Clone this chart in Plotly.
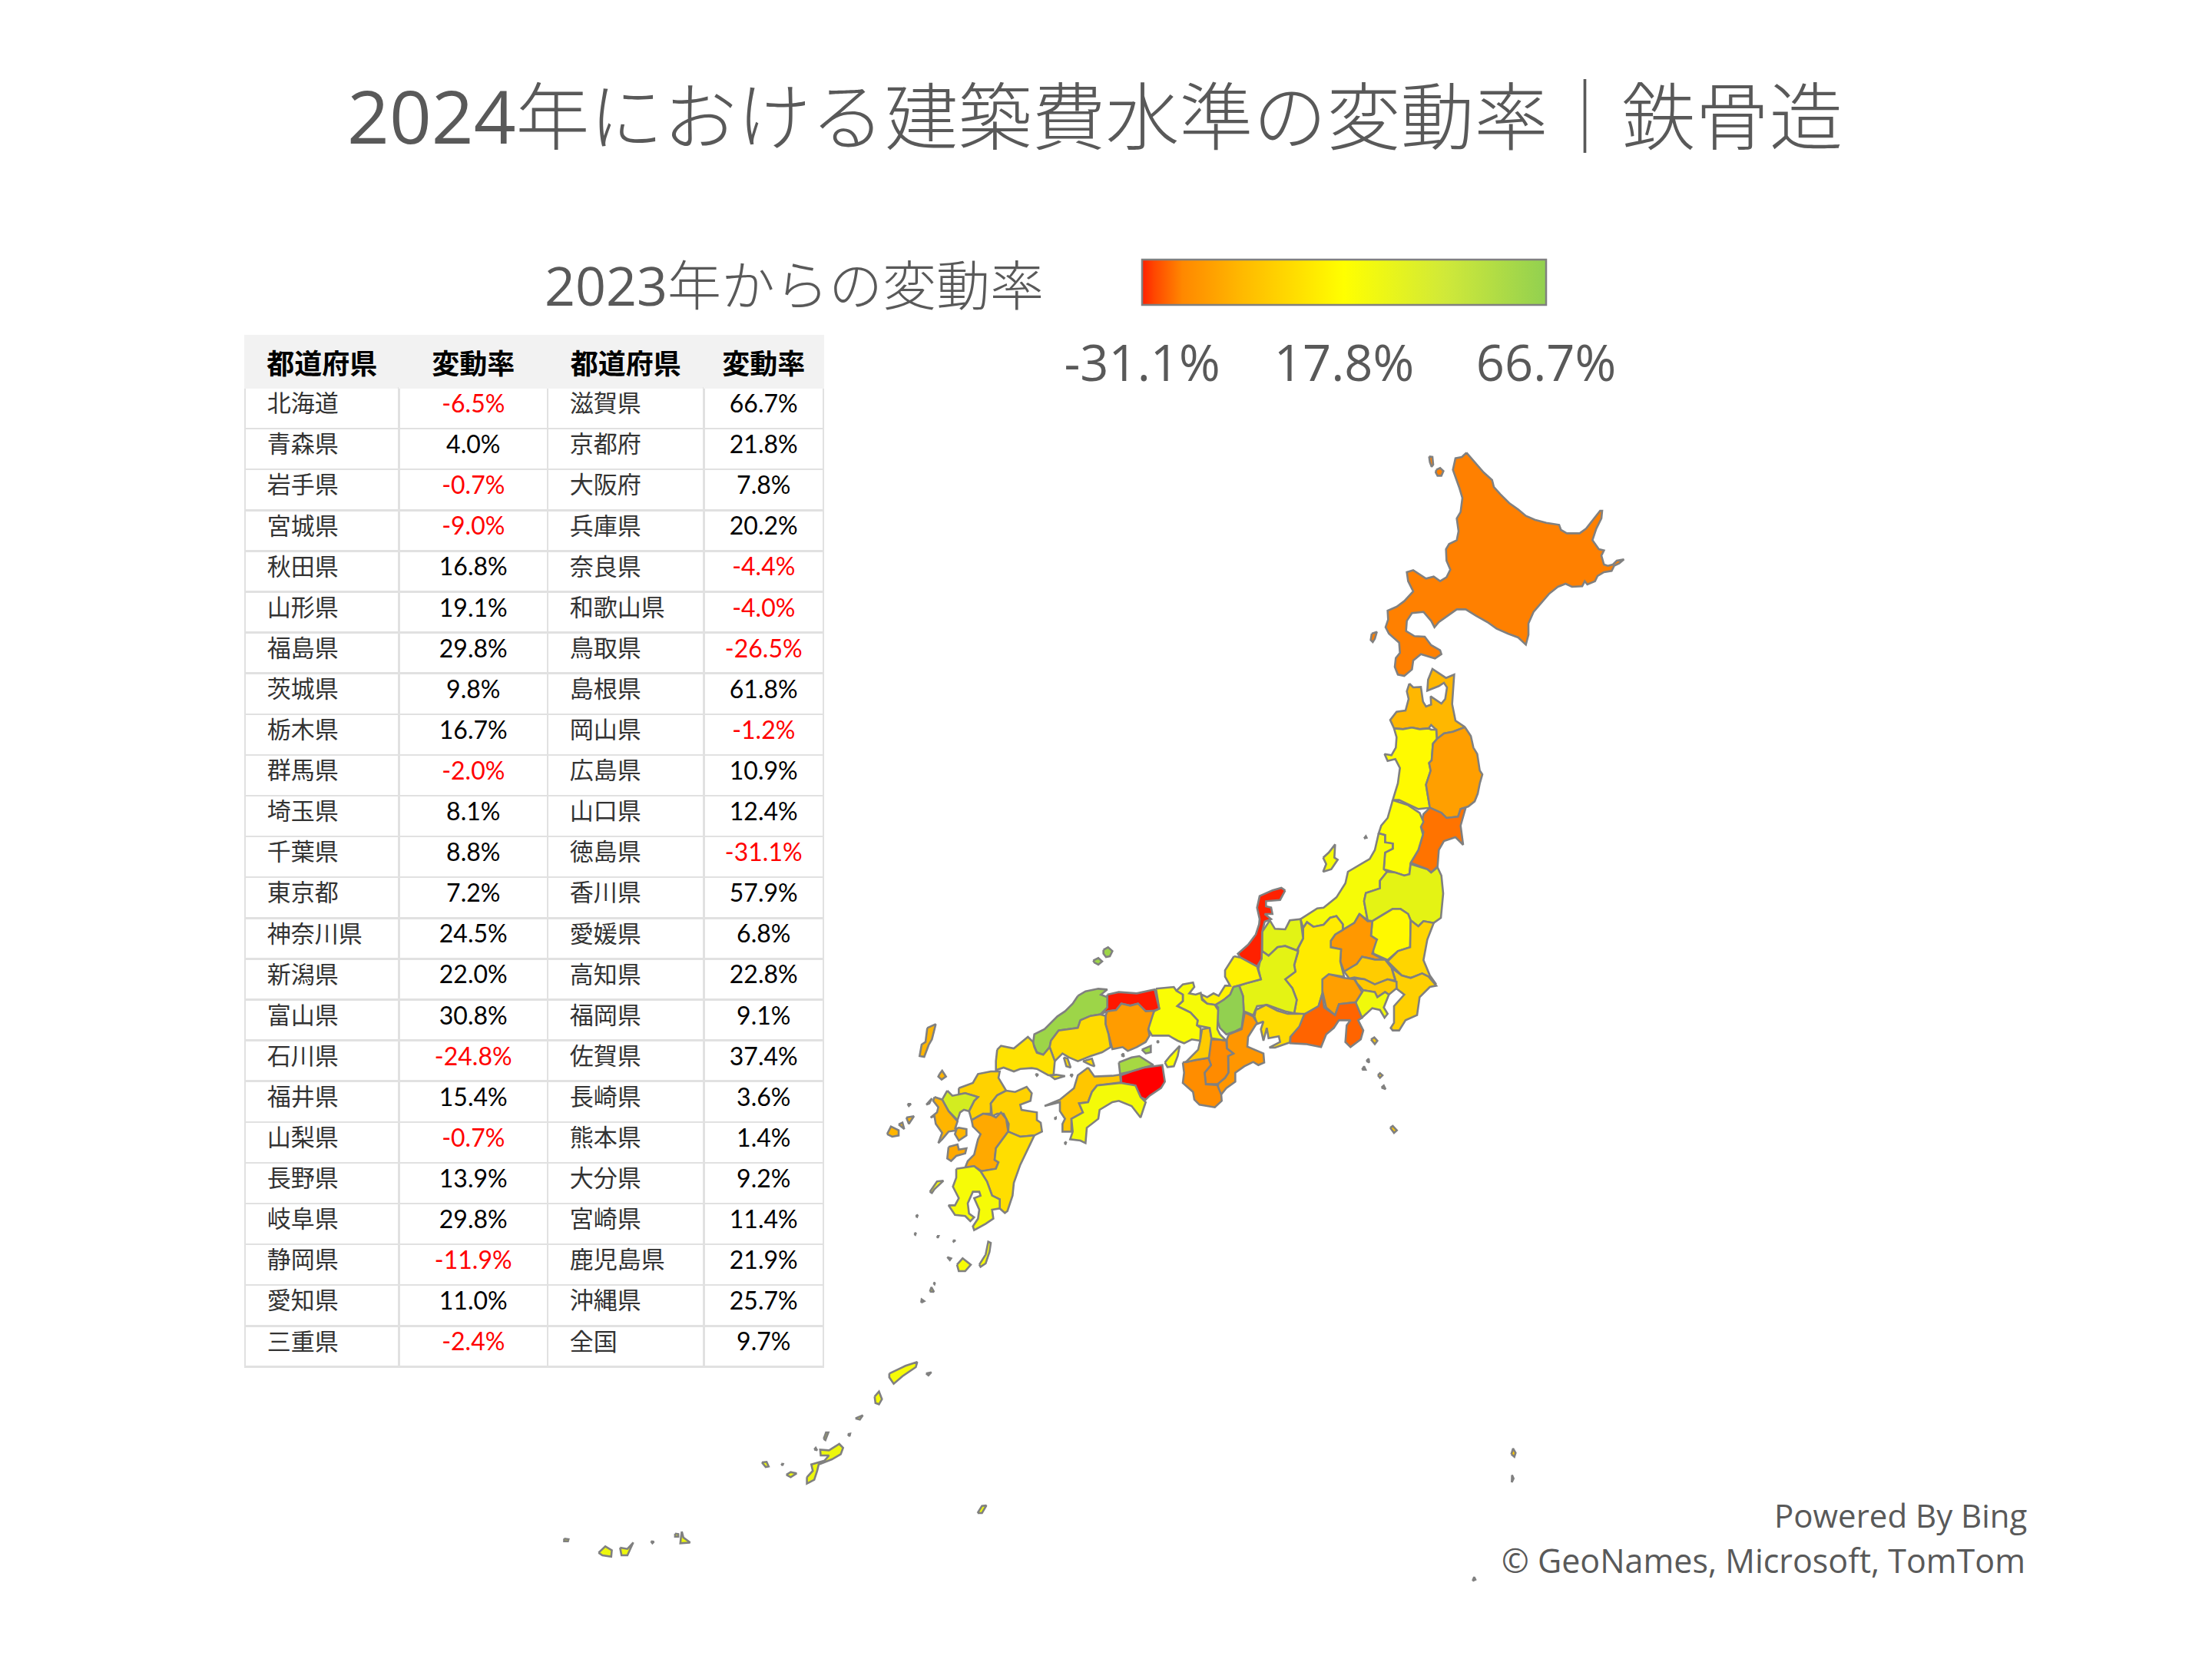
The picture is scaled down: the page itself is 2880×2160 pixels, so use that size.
from plotly.colors import sample_colorscale
import plotly.graph_objects as go

TITLE_YEAR = "2024"
TITLE_REST = "年における建築費水準の変動率｜鉄骨造"
SCALE_TITLE_YEAR = "2023"
SCALE_TITLE_REST = "年からの変動率"
FOOTER = ["Powered By Bing", "© GeoNames, Microsoft, TomTom"]
TABLE_HEADERS = ["都道府県", "変動率", "都道府県", "変動率"]

PREFS_LEFT = ["北海道", "青森県", "岩手県", "宮城県", "秋田県", "山形県", "福島県", "茨城県",
              "栃木県", "群馬県", "埼玉県", "千葉県", "東京都", "神奈川県", "新潟県", "富山県",
              "石川県", "福井県", "山梨県", "長野県", "岐阜県", "静岡県", "愛知県", "三重県"]
RATES_LEFT = [-6.5, 4.0, -0.7, -9.0, 16.8, 19.1, 29.8, 9.8,
              16.7, -2.0, 8.1, 8.8, 7.2, 24.5, 22.0, 30.8,
              -24.8, 15.4, -0.7, 13.9, 29.8, -11.9, 11.0, -2.4]
PREFS_RIGHT = ["滋賀県", "京都府", "大阪府", "兵庫県", "奈良県", "和歌山県", "鳥取県", "島根県",
               "岡山県", "広島県", "山口県", "徳島県", "香川県", "愛媛県", "高知県", "福岡県",
               "佐賀県", "長崎県", "熊本県", "大分県", "宮崎県", "鹿児島県", "沖縄県", "全国"]
RATES_RIGHT = [66.7, 21.8, 7.8, 20.2, -4.4, -4.0, -26.5, 61.8,
               -1.2, 10.9, 12.4, -31.1, 57.9, 6.8, 22.8, 9.1,
               37.4, 3.6, 1.4, 9.2, 11.4, 21.9, 25.7, 9.7]

SCALE_MIN, SCALE_MID, SCALE_MAX = -31.1, 17.8, 66.7
SCALE_COLORS = [[0, "#ff0000"], [0.5, "#ffff00"], [1, "#92d050"]]
# the legend bar in the source blends its three stops with a gamma, so it looks lighter
BAR_COLORS = [[0, "#ff2000"], [0.03, "#ff4700"], [0.1, "#ff8800"], [0.25, "#ffba00"],
              [0.5, "#ffff00"], [0.75, "#d0e939"], [1, "#92d050"]]

# No boundary file is available offline, so the outlines are traced off the source map.
# Each ring is (sheet, points); a sheet is a local tracing frame: origin and units per map unit.
SHEETS = {"A": (1700, 560, 3), "B": (1500, 1000, 3), "C": (1120, 1200, 3), "D": (1120, 1300, 3),
          "E": (700, 1750, 2.61), "F": (1500, 1240, 3), "G": (1700, 1340, 3), "H": (1900, 1840, 3)}

OUTLINES = {
    "北海道": [
        ("A", [(628,88),(660,125),(695,165),(728,195),(735,222),(760,250),(795,285),(830,310),(860,335),(895,350),(940,362),(990,370),(997,390),(1020,403),(1070,403),(1095,385),(1125,345),(1150,315),(1158,315),(1155,345),(1135,385),(1120,430),(1145,465),(1165,470),(1155,490),(1165,525),(1180,530),(1200,525),(1215,510),(1243,505),(1225,520),(1205,530),(1195,550),(1165,555),(1140,570),(1130,590),(1100,603),(1090,590),(1080,610),(1040,612),(1015,600),(985,612),(950,640),(920,675),(890,710),(870,755),(870,800),(860,838),(830,810),(790,795),(745,775),(710,750),(665,725),(625,700),(590,700),(555,725),(520,750),(503,770),(490,745),(460,710),(415,715),(395,745),(392,785),(425,805),(465,807),(490,840),(525,860),(530,875),(505,892),(450,875),(420,900),(415,935),(385,960),(360,955),(348,925),(352,890),(368,870),(365,830),(325,795),(312,770),(322,740),(320,705),(355,690),(385,668),(420,630),(400,590),(395,555),(420,547),(470,580),(500,572),(525,590),(550,575),(565,545),(550,510),(548,465),(560,445),(590,430),(597,395),(590,345),(605,320),(612,265),(600,225),(575,155),(585,110),(610,105)]),
        ("A", [(510,155),(525,148),(538,160),(530,178),(515,178),(508,165)]),
        ("A", [(482,103),(495,105),(498,135),(492,143),(485,125)]),
        ("A", [(258,795),(278,788),(270,815),(262,828),(254,820)]),
    ],
    "青森県": [("A", [(405,990),(420,1005),(450,1003),(458,1060),(470,1080),(490,1072),(488,1040),(530,1068),(545,1050),(552,1005),(540,987),(520,1000),(475,1018),(478,975),(495,933),(520,950),(548,968),(580,955),(575,1020),(572,1070),(585,1135),(622,1160),(575,1178),(540,1185),(512,1207),(510,1170),(490,1152),(480,1165),(445,1168),(415,1162),(380,1168),(345,1165),(330,1132),(355,1100),(390,1095),(402,1050),(395,1020)])],
    "秋田県": [("A", [(345,1165),(380,1168),(415,1162),(445,1168),(480,1165),(490,1170),(510,1170),(512,1207),(497,1225),(492,1290),(482,1300),(488,1330),(470,1385),(480,1440),(485,1475),(440,1480),(400,1462),(365,1445),(340,1445),(360,1380),(368,1320),(350,1285),(320,1292),(308,1265),(335,1270),(352,1240),(355,1200)])],
    "岩手県": [("A", [(622,1160),(645,1195),(655,1240),(670,1265),(680,1330),(690,1345),(680,1380),(672,1420),(660,1450),(635,1470),(605,1480),(595,1510),(550,1515),(530,1495),(485,1475),(480,1440),(470,1385),(488,1330),(482,1300),(492,1290),(497,1225),(512,1207),(540,1185),(575,1178)])],
    "宮城県": [("B", [(1085,155),(1130,175),(1150,195),(1195,190),(1205,160),(1225,155),(1205,225),(1215,300),(1185,270),(1140,285),(1120,320),(1115,385),(1090,408),(1075,395),(1010,370),(1040,320),(1060,250),(1050,230),(1060,180)])],
    "山形県": [("B", [(940,125),(1000,145),(1045,175),(1060,210),(1050,230),(1058,260),(1040,320),(1010,370),(1005,415),(985,420),(950,408),(905,395),(910,330),(940,315),(940,295),(910,290),(910,262),(885,255),(895,225),(920,195)])],
    "新潟県": [
        ("B", [(885,255),(910,262),(910,290),(940,295),(940,315),(910,330),(905,395),(918,405),(890,440),(890,470),(835,488),(828,520),(842,595),(810,570),(790,605),(745,632),(745,610),(720,578),(695,585),(670,612),(630,620),(605,602),(590,625),(580,590),(645,548),(670,545),(720,505),(755,450),(765,405),(815,375),(850,355),(870,320)]),
        ("B", [(668,350),(690,330),(715,298),(712,350),(725,358),(700,395),(668,405),(680,375)]),
        ("B", [(828,275),(835,266),(838,272)]),
    ],
    "福島県": [("B", [(918,405),(950,408),(985,420),(1005,415),(1010,375),(1075,395),(1090,408),(1115,388),(1130,420),(1137,490),(1128,585),(1100,605),(1060,598),(1040,618),(1010,595),(1000,570),(970,550),(940,550),(905,570),(860,598),(842,595),(828,520),(835,488),(890,470),(890,440)])],
    "栃木県": [("B", [(860,598),(905,570),(940,550),(970,550),(1000,570),(1010,595),(1008,700),(960,715),(920,750),(910,745),(865,725),(860,690),(878,670),(855,655)])],
    "群馬県": [("B", [(810,570),(842,598),(860,598),(855,655),(878,670),(860,725),(905,748),(870,748),(820,737),(800,765),(750,795),(735,755),(738,708),(698,700),(698,675),(715,650),(745,632),(790,605)])],
    "茨城県": [("B", [(1010,595),(1040,618),(1060,598),(1100,605),(1075,670),(1060,750),(1085,810),(1110,845),(1080,815),(1055,802),(1010,820),(975,810),(945,780),(920,755),(960,715),(1008,700)])],
    "千葉県": [("B", [(935,780),(975,810),(1010,820),(1055,802),(1080,815),(1110,850),(1085,855),(1045,895),(1035,965),(990,985),(965,1025),(940,1025),(932,1015),(945,995),(945,930),(985,885),(955,862),(950,825)])],
    "埼玉県": [("B", [(750,795),(800,765),(820,737),(870,748),(910,748),(935,780),(950,830),(920,825),(870,845),(830,825),(790,818),(770,822)])],
    "東京都": [
        ("B", [(790,822),(830,825),(870,845),(920,825),(955,835),(955,860),(925,885),(910,875),(880,895),(870,875),(825,868),(800,840)]),
        ("G", [(255,40),(268,32),(280,45),(270,58)]),
        ("G", [(237,124),(246,115),(248,130)]),
        ("G", [(220,158),(228,145),(234,158)]),
        ("G", [(282,180),(290,172),(300,180),(290,190)]),
        ("G", [(296,228),(305,220),(312,234)]),
        ("G", [(330,385),(340,378),(356,395),(345,405)]),
        ("H", [(203,160),(210,138),(220,155),(215,170)]),
        ("H", [(205,270),(206,242),(212,255)]),
        ("H", [(52,655),(58,640),(63,650)]),
    ],
    "神奈川県": [("B", [(825,868),(870,875),(880,895),(910,875),(925,885),(905,935),(920,960),(908,975),(890,945),(860,938),(820,975),(795,935),(795,915)])],
    "山梨県": [("B", [(665,825),(690,805),(750,820),(790,825),(820,875),(795,915),(730,922),(715,965),(680,935),(665,870)])],
    "長野県": [("B", [(590,625),(605,602),(630,620),(670,612),(695,585),(720,578),(745,610),(745,632),(715,650),(698,675),(698,700),(738,708),(735,755),(750,815),(690,805),(665,825),(665,880),(650,930),(595,962),(555,958),(565,905),(548,860),(520,825),(560,795),(555,770),(570,720),(570,705),(590,665)])],
    "富山県": [("B", [(460,595),(480,628),(520,630),(538,595),(580,590),(590,665),(565,712),(520,695),(490,700),(455,733),(430,715),(430,640)])],
    "岐阜県": [("B", [(430,715),(455,733),(490,700),(520,695),(570,715),(555,770),(560,795),(520,825),(548,860),(565,905),(555,958),(520,950),(490,940),(450,925),(410,930),(395,965),(370,955),(358,950),(355,890),(340,850),(370,840),(425,825),(415,785)])],
    "石川県": [("B", [(520,478),(505,468),(470,478),(420,500),(410,545),(420,590),(418,610),(405,650),(375,690),(335,725),(345,740),(410,775),(428,745),(430,640),(440,600),(465,590),(440,570),(470,570),(465,545),(445,540),(445,520),(500,515)])],
    "福井県": [("B", [(320,735),(345,740),(410,775),(425,825),(370,840),(340,850),(318,855),(305,885),(275,910),(248,925),(215,920),(195,900),(195,885),(215,895),(240,880),(260,890),(285,850),(305,850),(285,815),(285,790)])],
    "滋賀県": [("B", [(318,855),(340,850),(355,890),(358,950),(350,1015),(320,1030),(290,1040),(265,1015),(255,985),(258,935),(248,925),(280,905),(305,885)])],
    "静岡県": [("B", [(595,962),(650,930),(665,880),(672,935),(715,965),(730,922),(795,915),(820,975),(805,985),(825,1025),(815,1060),(775,1090),(755,1070),(760,1005),(775,985),(730,985),(710,1015),(680,1040),(660,1090),(600,1078),(540,1075),(540,1050),(575,1000)])],
    "愛知県": [("F", [(400,250),(405,225),(445,205),(490,228),(530,240),(555,240),(595,240),(575,290),(540,330),(538,352),(480,372),(458,372),(500,350),(495,328),(455,335),(448,295),(435,345),(425,300),(435,270),(410,280)])],
    "三重県": [("F", [(362,235),(395,250),(410,275),(375,330),(372,368),(435,395),(438,430),(415,440),(395,428),(360,445),(325,470),(325,505),(290,530),(270,555),(255,530),(260,510),(285,490),(298,470),(297,400),(318,395),(292,375),(292,340),(300,320),(350,300)])],
    "奈良県": [("F", [(230,340),(260,340),(290,345),(292,375),(318,395),(297,405),(298,470),(285,490),(255,515),(210,515),(205,470),(230,440),(220,415),(225,380)])],
    "和歌山県": [("F", [(120,430),(170,420),(220,412),(230,440),(205,470),(210,515),(255,518),(270,555),(272,580),(245,605),(185,595),(165,575),(160,545),(120,510),(125,470)])],
    "大阪府": [("F", [(195,300),(225,295),(232,335),(225,380),(222,412),(170,420),(130,430),(180,380),(188,345)])],
    "京都府": [("F", [(95,150),(120,125),(160,118),(165,135),(145,160),(170,165),(190,158),(195,185),(215,200),(245,205),(258,225),(255,300),(265,320),(290,345),(260,340),(232,335),(225,295),(195,290),(175,285),(178,265),(150,235),(130,225),(98,210),(120,190),(120,165)])],
    "兵庫県": [
        ("C", [(1155,262),(1225,255),(1235,270),(1260,285),(1260,310),(1238,330),(1270,345),(1290,355),(1318,385),(1315,405),(1330,415),(1328,465),(1295,460),(1265,475),(1240,465),(1205,445),(1140,445),(1125,420),(1130,390),(1148,350),(1168,340),(1160,290)]),
        ("C", [(1190,550),(1210,525),(1248,485),(1240,525),(1225,565),(1200,568)]),
        ("C", [(1158,470),(1164,465),(1165,473)]),
    ],
    "鳥取県": [("C", [(965,285),(1010,275),(1080,280),(1150,265),(1168,340),(1148,348),(1115,350),(1085,320),(1055,328),(1020,320),(1000,345),(965,350),(940,362),(960,340),(965,310)])],
    "島根県": [
        ("C", [(850,290),(880,272),(930,262),(965,265),(940,285),(965,295),(965,335),(938,362),(900,368),(860,385),(850,415),(775,425),(745,465),(740,490),(715,520),(690,510),(675,475),(680,440),(720,420),(770,370),(800,350),(830,320)]),
        ("C", [(950,110),(968,100),(985,115),(975,135),(960,138),(950,125)]),
        ("C", [(910,152),(930,142),(945,155),(930,168),(915,160)]),
    ],
    "岡山県": [
        ("C", [(965,350),(1000,345),(1020,320),(1055,328),(1085,320),(1115,350),(1148,348),(1125,420),(1130,445),(1115,470),(1080,490),(1045,505),(1025,490),(985,498),(970,440),(958,400),(958,368)]),
        ("C", [(1020,522),(1028,515),(1030,527)]),
    ],
    "広島県": [
        ("C", [(860,385),(900,368),(938,362),(958,368),(958,400),(970,440),(978,490),(945,510),(900,525),(850,545),(815,530),(790,515),(760,545),(740,490),(745,465),(775,425),(850,415)]),
        ("C", [(795,530),(810,535),(822,570),(805,565)]),
        ("C", [(870,545),(905,535),(915,565),(900,560)]),
    ],
    "山口県": [
        ("C", [(535,500),(550,485),(600,495),(625,475),(655,450),(675,470),(680,490),(690,512),(715,520),(740,490),(760,545),(755,600),(735,600),(690,575),(670,572),(625,575),(600,585),(560,570),(530,580),(530,545)]),
        ("C", [(740,600),(765,598),(800,603),(760,615)]),
        ("C", [(685,595),(695,597),(690,602)]),
    ],
    "香川県": [
        ("C", [(1010,550),(1060,530),(1090,525),(1145,560),(1100,572),(1060,585),(1015,595)]),
        ("C", [(1100,500),(1135,485),(1135,510),(1115,515)]),
    ],
    "徳島県": [("C", [(1018,600),(1060,585),(1110,570),(1180,560),(1190,625),(1175,650),(1130,680),(1115,695),(1095,685),(1075,640),(1020,630)])],
    "愛媛県": [
        ("C", [(890,570),(915,605),(985,602),(1015,598),(1018,628),(925,640),(905,665),(890,705),(855,710),(870,745),(825,770),(825,820),(790,820),(790,790),(800,770),(780,740),(780,705),(720,720),(780,695),(835,650),(850,600)]),
        ("C", [(820,598),(830,597),(826,604)]),
        ("C", [(758,768),(764,765),(764,772)]),
    ],
    "高知県": [
        ("C", [(925,640),(1018,630),(1075,640),(1095,685),(1115,705),(1095,765),(1060,720),(1010,700),(985,705),(935,735),(930,770),(885,805),(880,865),(860,855),(820,850),(830,820),(825,770),(870,745),(855,710),(890,705),(905,665)]),
        ("C", [(797,865),(805,860),(802,868)]),
    ],
    "福岡県": [("D", [(385,350),(410,340),(440,330),(460,295),(510,285),(545,285),(540,310),(570,360),(535,378),(510,410),(510,450),(480,450),(435,475),(425,440),(445,400),(460,385),(410,370),(385,375)])],
    "大分県": [("D", [(570,360),(605,365),(650,345),(670,370),(665,400),(625,415),(630,435),(690,445),(690,475),(705,485),(710,520),(680,535),(625,540),(578,520),(580,490),(560,450),(535,450),(515,460),(510,410),(535,378)])],
    "佐賀県": [("D", [(340,360),(360,380),(410,370),(460,385),(445,400),(425,440),(405,435),(390,445),(380,475),(345,440),(320,395)])],
    "長崎県": [
        ("D", [(290,385),(320,395),(345,440),(380,480),(370,510),(385,505),(415,510),(415,535),(385,555),(370,530),(375,515),(345,520),(320,550),(305,565),(320,525),(295,490),(290,460),(275,465),(300,445),(305,425),(285,400)]),
        ("D", [(310,295),(320,282),(335,305),(318,317),(305,305)]),
        ("D", [(262,115),(295,100),(280,160),(268,180),(250,228),(232,225),(240,180),(255,170)]),
        ("D", [(105,530),(120,500),(150,515),(150,535),(125,540)]),
        ("D", [(180,465),(210,460),(190,490)]),
        ("D", [(150,492),(165,485),(172,510)]),
        ("D", [(258,415),(280,390),(270,410)]),
        ("D", [(185,412),(198,412),(190,420)]),
    ],
    "熊本県": [
        ("D", [(435,475),(480,450),(510,455),(530,465),(550,445),(570,470),(578,520),(530,585),(525,630),(540,640),(530,665),(475,675),(445,655),(410,660),(420,635),(445,610),(460,550),(470,530),(440,500)]),
        ("D", [(345,580),(380,570),(385,590),(415,585),(410,605),(375,615),(355,635),(340,625)]),
    ],
    "宮崎県": [("D", [(578,520),(625,540),(680,535),(650,600),(625,650),(600,720),(595,770),(575,830),(565,838),(545,820),(545,785),(515,770),(495,715),(470,675),(530,665),(540,640),(525,630),(530,585)])],
    "鹿児島県": [
        ("D", [(375,665),(410,660),(445,655),(470,675),(495,715),(515,770),(545,785),(545,820),(515,825),(520,860),(490,880),(445,905),(440,890),(460,860),(465,825),(445,780),(470,770),(465,755),(440,755),(420,800),(425,840),(445,855),(430,870),(410,850),(370,845),(345,808),(370,808),(385,780),(362,735),(375,700)]),
        ("D", [(272,755),(300,715),(325,712),(290,745),(280,760)]),
        ("D", [(378,1040),(400,1015),(432,1040),(410,1065),(385,1065)]),
        ("D", [(465,1040),(490,1000),(500,950),(510,955),(505,990),(490,1035),(470,1048)]),
        ("D", [(340,1010),(355,1015),(350,1022)]),
        ("D", [(217,850),(225,845),(222,853)]),
        ("D", [(211,920),(218,915),(215,923)]),
        ("D", [(300,928),(306,928),(303,935)]),
        ("D", [(362,945),(372,945),(365,950)]),
        ("D", [(286,1112),(292,1110),(290,1116)]),
        ("D", [(272,1145),(278,1128),(288,1146)]),
        ("D", [(238,1188),(240,1175),(250,1182)]),
        ("E", [(1195,115),(1250,85),(1290,70),(1285,90),(1240,125),(1210,155),(1195,130)]),
        ("E", [(1145,205),(1160,185),(1170,215),(1160,235),(1148,230)]),
        ("E", [(1080,290),(1105,278),(1095,295)]),
        ("E", [(1320,115),(1338,110),(1328,122)]),
        ("E", [(1054,352),(1062,350),(1060,360)]),
    ],
    "沖縄県": [
        ("E", [(915,520),(935,495),(930,470),(975,455),(990,435),(962,435),(960,412),(990,415),(1025,390),(1038,405),(1030,430),(1000,450),(955,470),(950,495),(940,530),(915,545)]),
        ("E", [(845,510),(860,500),(880,505),(860,520)]),
        ("E", [(762,462),(778,460),(785,478),(775,480)]),
        ("E", [(972,370),(980,345),(988,345),(978,375)]),
        ("E", [(940,412),(945,405),(950,415)]),
        ("E", [(828,467),(834,468),(832,474)]),
        ("E", [(467,740),(478,742),(478,752),(467,752)]),
        ("E", [(490,732),(495,755),(518,775),(485,778),(487,755)]),
        ("E", [(280,795),(305,800),(325,775),(310,810),(305,825),(285,825)]),
        ("E", [(207,815),(230,790),(252,805),(250,830),(220,825)]),
        ("E", [(90,760),(105,762),(103,770),(90,770)]),
        ("E", [(385,770),(395,772),(390,778)]),
        ("E", [(1495,660),(1510,632),(1525,630),(1510,660)]),
    ],
}


def ring_xy(sheet, points):
    ox, oy, sx = SHEETS[sheet]
    closed = points + points[:1]
    return [ox + p[0] / sx for p in closed], [oy + p[1] / 3 for p in closed]


rates_by_pref = dict(zip(PREFS_LEFT + PREFS_RIGHT, RATES_LEFT + RATES_RIGHT))

fig = go.Figure()
fig.update_layout(
    width=2880,
    height=2160,
    margin=dict(l=0, r=0, t=0, b=0),
    paper_bgcolor="white",
    plot_bgcolor="white",
    showlegend=False,
    font=dict(family="Open Sans, Noto Sans CJK JP", color="#595959"),
    xaxis=dict(range=[0, 2880], domain=[0, 1], visible=False, fixedrange=True),
    yaxis=dict(range=[2160, 0], domain=[0, 1], visible=False, fixedrange=True),
)

for pref, rings in OUTLINES.items():
    xs, ys = [], []
    for sheet, points in rings:
        rx, ry = ring_xy(sheet, points)
        xs += rx + [None]
        ys += ry + [None]
    t = (rates_by_pref[pref] - SCALE_MIN) / (SCALE_MAX - SCALE_MIN)
    fig.add_trace(go.Scatter(
        x=xs, y=ys,
        mode="lines",
        fill="toself",
        fillcolor=sample_colorscale(SCALE_COLORS, [t])[0],
        line=dict(color="#808080", width=2.6),
        name=pref,
        hoverinfo="name",
    ))

# only there for its colorbar
all_rates = RATES_LEFT + RATES_RIGHT
fig.add_trace(go.Scatter(
    x=[None] * len(all_rates),
    y=[None] * len(all_rates),
    mode="markers",
    hoverinfo="skip",
    marker=dict(
        color=all_rates,
        colorscale=BAR_COLORS,
        cmin=SCALE_MIN,
        cmax=SCALE_MAX,
        showscale=True,
        colorbar=dict(
            orientation="h",
            x=1487 / 2880, xanchor="left",
            y=1 - 338 / 2160, yanchor="top",
            lenmode="pixels", len=526,
            thicknessmode="pixels", thickness=59,
            xpad=0, ypad=0,
            outlinecolor="#808080", outlinewidth=2.5,
            borderwidth=0,
            tickmode="array",
            tickvals=[SCALE_MIN, SCALE_MID, SCALE_MAX],
            ticktext=[f"{v:.1f}%" for v in (SCALE_MIN, SCALE_MID, SCALE_MAX)],
            ticks="outside", ticklen=20, tickwidth=1, tickcolor="rgba(0,0,0,0)",
            tickfont=dict(family="Open Sans", size=65, color="#595959"),
        ),
    ),
))


def rate_labels(values):
    return [f"{v:.1f}%" for v in values]


def rate_colors(values):
    return ["#ff0000" if v < 0 else "#000000" for v in values]


def indent(names):
    return ["\u00a0\u00a0\u00a0" + n for n in names]


def heavier(year):
    return f'<span style="font-weight:400">{year}</span>'


number_font = "Lato, Open Sans"
name_font = "Noto Sans CJK JP"
fig.add_trace(go.Table(
    domain=dict(x=[319 / 2880, 1072 / 2880], y=[1 - 1790 / 2160, 1 - 437 / 2160]),
    columnwidth=[200.5, 193.5, 203.5, 155.5],
    header=dict(
        values=[f"<b>{h}</b>" for h in TABLE_HEADERS],
        height=61,
        align="center",
        fill_color="#f2f2f2",
        line=dict(color="#f2f2f2", width=2),
        font=dict(family=name_font, size=36, color="#000000"),
    ),
    cells=dict(
        values=[indent(PREFS_LEFT), rate_labels(RATES_LEFT), indent(PREFS_RIGHT), rate_labels(RATES_RIGHT)],
        height=53.1,
        align=["left", "center", "left", "center"],
        fill_color="white",
        line=dict(color="#e1e1e1", width=2.5),
        font=dict(
            family=[name_font, number_font, name_font, number_font],
            size=[31, 32, 31, 32],
            color=["#333333", rate_colors(RATES_LEFT), "#333333", rate_colors(RATES_RIGHT)],
        ),
    ),
))

fig.add_annotation(x=1425.5, y=149, xref="x", yref="y", text=heavier(TITLE_YEAR) + TITLE_REST, showarrow=False,
                   font=dict(size=96, weight=300, color="#595959"))
fig.add_annotation(x=1034, y=371, xref="x", yref="y", text=heavier(SCALE_TITLE_YEAR) + SCALE_TITLE_REST, showarrow=False,
                   font=dict(size=70, weight=300, color="#595959"))
fig.add_annotation(x=2641, y=1972, xref="x", yref="y", xanchor="right", text=FOOTER[0], showarrow=False,
                   font=dict(size=42, color="#595959"))
fig.add_annotation(x=2639, y=2031, xref="x", yref="y", xanchor="right", text=FOOTER[1], showarrow=False,
                   font=dict(size=43, color="#595959"))

# the page's default body margin would push the whole figure off by 8px
fig.write_html("out.html", config={"displayModeBar": False},
               post_script="document.body.style.margin = '0';")
